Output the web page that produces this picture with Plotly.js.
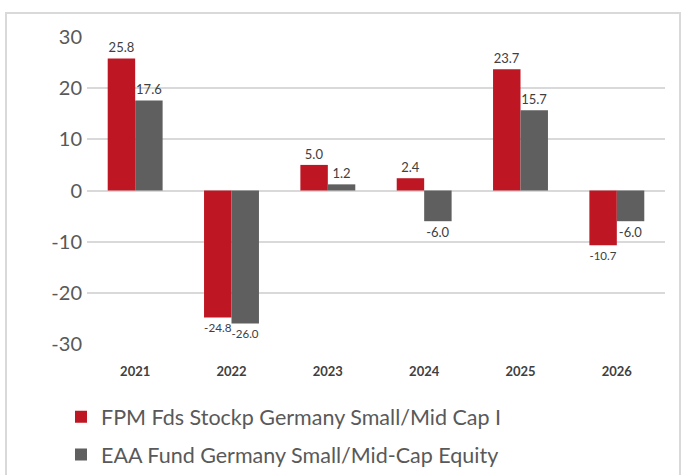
<!DOCTYPE html>
<html>
<head>
<meta charset="utf-8">
<script src="https://cdn.plot.ly/plotly-3.0.1.min.js"></script>
<style>
html,body{margin:0;padding:0;background:#fff;}
#frame{position:absolute;left:5px;top:12px;width:676px;height:480px;border:2px solid #d9d9d9;box-sizing:border-box;}
#chart{position:absolute;left:0;top:0;width:685px;height:475px;}
</style>
</head>
<body>
<div id="frame"></div>
<div id="chart"></div>
<script>
const years = ['2021','2022','2023','2024','2025','2026'];
const fpmName = 'FPM Fds Stockp Germany Small/Mid Cap I';
const fpmValues = [25.8, -24.8, 5.0, 2.4, 23.7, -10.7];
const eaaName = 'EAA Fund Germany Small/Mid-Cap Equity';
const eaaValues = [17.6, -26.0, 1.2, -6.0, 15.7, -6.0];
const yTicks = [-30, -20, -10, 0, 10, 20, 30];

const labelFont = {family: 'Lato, "Open Sans", sans-serif', size: 13, color: '#404040'};
const traces = [
  {type: 'bar', name: fpmName, x: years, y: fpmValues, marker: {color: '#be1622'},
   text: fpmValues.map(v => v.toFixed(1)), textposition: 'outside', textfont: labelFont,
   cliponaxis: false, legendgroup: 'a', hoverinfo: 'x+y'},
  {type: 'bar', name: eaaName, x: years, y: eaaValues, marker: {color: '#5f5f5f'},
   text: eaaValues.map(v => v.toFixed(1)), textposition: 'outside', textfont: labelFont,
   cliponaxis: false, legendgroup: 'b', hoverinfo: 'x+y'}
];
const layout = {
  width: 685, height: 475,
  margin: {l: 87, r: 20, t: 37, b: 131, autoexpand: false},
  paper_bgcolor: 'rgba(0,0,0,0)', plot_bgcolor: 'rgba(0,0,0,0)',
  barmode: 'group', bargap: 0.43, bargroupgap: 0,
  font: {family: 'Lato, "Open Sans", sans-serif', color: '#595959'},
  xaxis: {type: 'category', showgrid: false, zeroline: false, showline: false,
    ticks: '', ticklabelstandoff: 18, automargin: false, tickangle: 0,
    tickfont: {family: 'Lato, "Open Sans", sans-serif', size: 13, color: '#404040', weight: 'bold'}},
  yaxis: {range: [-30, 30], tickvals: yTicks, ticktext: yTicks.map(String),
    showgrid: true, gridcolor: '#d9d9d9', gridwidth: 2, automargin: false,
    zeroline: true, zerolinecolor: '#d9d9d9', zerolinewidth: 2,
    showline: false, ticks: '', ticklabelstandoff: 4,
    tickfont: {family: 'Lato, "Open Sans", sans-serif', size: 20, color: '#595959'}},
  showlegend: true,
  legend: {orientation: 'v', x: -0.045, xanchor: 'left', y: -0.17, yanchor: 'top',
    font: {family: 'Lato, "Open Sans", sans-serif', size: 21.5, color: '#595959'},
    tracegroupgap: 7, itemwidth: 30, bgcolor: 'rgba(0,0,0,0)'}
};
Plotly.newPlot('chart', traces, layout, {displayModeBar: false, staticPlot: true});
</script>
</body>
</html>
